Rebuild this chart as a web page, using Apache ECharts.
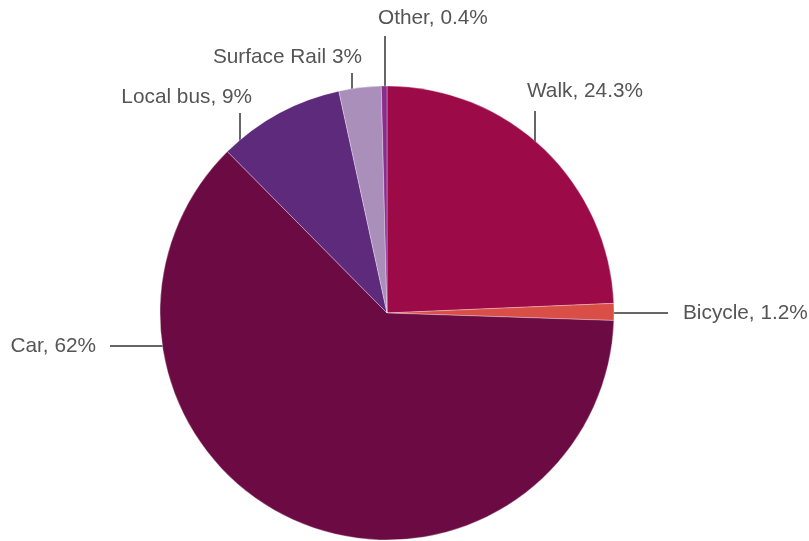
<!DOCTYPE html>
<html>
<head>
<meta charset="utf-8">
<script src="https://cdn.jsdelivr.net/npm/echarts@6/dist/echarts.min.js"></script>
<style>
  html, body { margin: 0; padding: 0; background: #fff; }
  #chart { width: 809px; height: 541px; }
</style>
</head>
<body>
<div id="chart"></div>
<script>
// data
const categories = ['Walk', 'Bicycle', 'Car', 'Local bus', 'Surface Rail', 'Other']
const shares = [24.3, 1.2, 62, 9, 3, 0.4]
const separators = [', ', ', ', ', ', ', ', ' ', ', ']
const colors = ['#9c0b47', '#d94f47', '#6c0a44', '#5e2a7c', '#ab8fbb', '#8e2c8e']

// pie geometry
const cx = 387
const cy = 313
const r = 227

// where each label sits: vertical connector (lineX) or horizontal connector (lineY)
const labelSpots = [
  { lineX: 535, lineEnd: 111, textX: 527, textY: 91, align: 'left' },
  { lineY: 313, lineEnd: 668, textX: 683, textY: 313, align: 'left' },
  { lineY: 346, lineEnd: 110, textX: 96, textY: 346, align: 'right' },
  { lineX: 240, lineEnd: 113, textX: 252, textY: 97, align: 'right' },
  { lineX: 352, lineEnd: 73, textX: 362, textY: 57, align: 'right' },
  { lineX: 385, lineEnd: 36, textX: 378, textY: 18, align: 'left' }
]

const chart = echarts.init(document.getElementById('chart'))

const option = {
  animation: false,
  series: [{
    type: 'pie',
    center: [cx, cy],
    radius: r,
    startAngle: 90,
    clockwise: true,
    itemStyle: {
      borderColor: 'rgba(255,255,255,0.6)',
      borderWidth: 0.5
    },
    label: {
      show: true,
      color: '#555',
      fontSize: 20.8,
      fontFamily: 'Liberation Sans, Arial, sans-serif',
      formatter: p => p.name + separators[p.dataIndex] + p.value + '%'
    },
    labelLine: {
      show: true,
      length: 10,
      length2: 10,
      lineStyle: { color: '#666', width: 2 }
    },
    labelLayout: params => {
      const s = labelSpots[params.dataIndex]
      let pts
      if (s.lineX !== undefined) {
        const edgeY = cy - Math.sqrt(r * r - (s.lineX - cx) * (s.lineX - cx))
        pts = [[s.lineX, edgeY + 2], [s.lineX, s.lineEnd], [s.lineX, s.lineEnd]]
      } else {
        const dx = Math.sqrt(r * r - (s.lineY - cy) * (s.lineY - cy))
        const edgeX = s.lineEnd > cx ? cx + dx - 2 : cx - dx + 2
        pts = [[edgeX, s.lineY], [s.lineEnd, s.lineY], [s.lineEnd, s.lineY]]
      }
      return {
        x: s.textX,
        y: s.textY,
        align: s.align,
        verticalAlign: 'middle',
        labelLinePoints: pts
      }
    },
    data: categories.map((name, i) => ({
      name: name,
      value: shares[i],
      itemStyle: { color: colors[i] }
    }))
  }]
}

chart.setOption(option)
</script>
</body>
</html>
